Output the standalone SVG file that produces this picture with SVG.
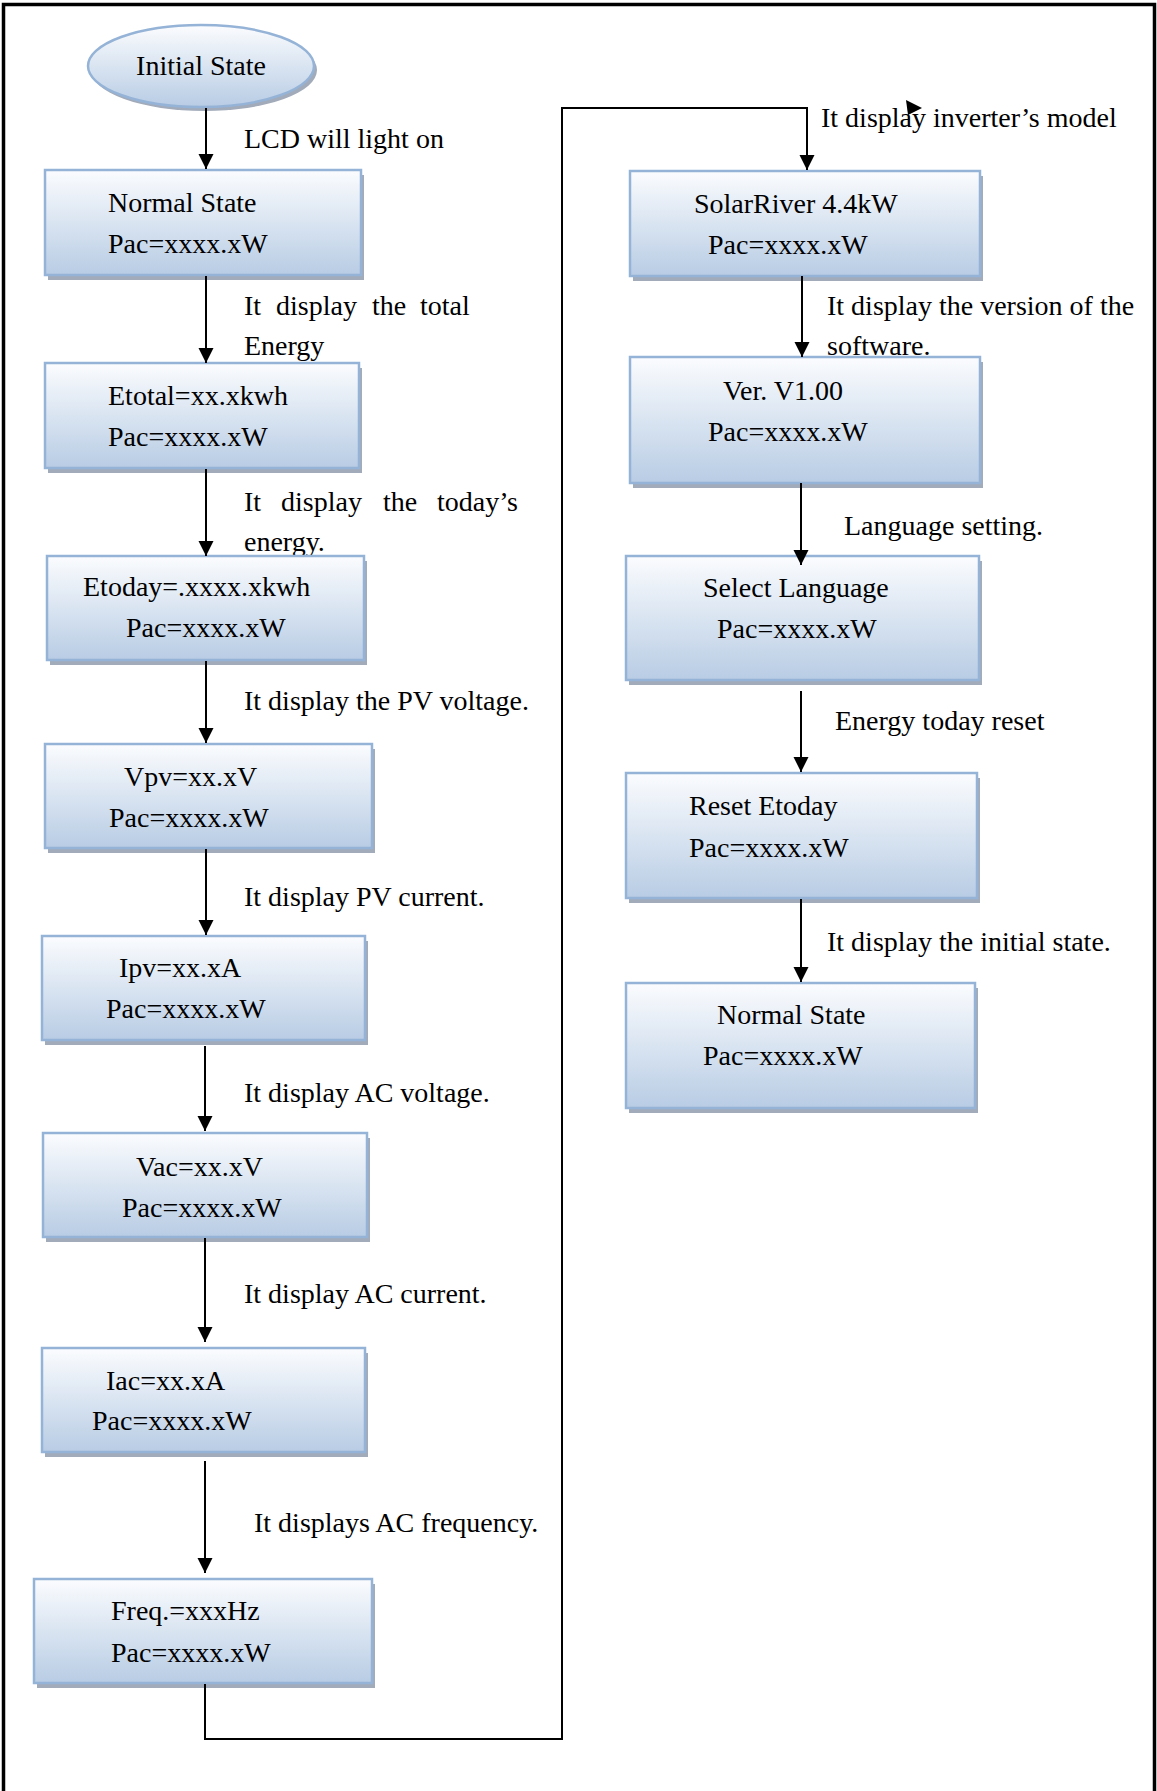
<svg xmlns="http://www.w3.org/2000/svg" width="1157" height="1791" viewBox="0 0 1157 1791">
<style>
.t{font-family:"Liberation Serif","Times New Roman",serif;font-size:28px;fill:#000}
.box{fill:url(#g);stroke:#95b3d7;stroke-width:2.5}
.sh{fill:#a2abba}
.c{fill:none;stroke:#000;stroke-width:2}
</style>
<defs>
<linearGradient id="g" x1="0" y1="0" x2="0" y2="1">
<stop offset="0" stop-color="#fbfcfe"/>
<stop offset="0.55" stop-color="#d6e2f0"/>
<stop offset="1" stop-color="#b8cce4"/>
</linearGradient>
<marker id="ah" markerUnits="userSpaceOnUse" markerWidth="16" markerHeight="16" refX="15" refY="7.5" orient="auto">
<path d="M0,0 L15,7.5 L0,15 z" fill="#000"/>
</marker>
</defs>
<rect width="1157" height="1791" fill="#fff"/>
<path d="M3.5,1791 V4.5 H1154.5 V1791" fill="none" stroke="#000" stroke-width="3.5"/>

<g id="labels">
<text class="t" x="244" y="148">LCD will light on</text>
<text class="t" y="315"><tspan x="244">It</tspan><tspan x="276">display</tspan><tspan x="372">the</tspan><tspan x="420">total</tspan></text>
<text class="t" x="244" y="355">Energy</text>
<text class="t" y="511"><tspan x="244">It</tspan><tspan x="281">display</tspan><tspan x="383">the</tspan><tspan x="437">today’s</tspan></text>
<text class="t" x="244" y="551">energy.</text>
<text class="t" x="244" y="710">It display the PV voltage.</text>
<text class="t" x="244" y="906">It display PV current.</text>
<text class="t" x="244" y="1102">It display AC voltage.</text>
<text class="t" x="244" y="1303">It display AC current.</text>
<text class="t" x="254" y="1532">It displays AC frequency.</text>
<text class="t" x="821" y="127">It display inverter’s model</text>
<text class="t" x="827" y="315">It display the version of the</text>
<text class="t" x="827" y="355">software.</text>
<text class="t" x="844" y="535">Language setting.</text>
<text class="t" x="835" y="730">Energy today reset</text>
<text class="t" x="827" y="951">It display the initial state.</text>
</g>

<g id="initial">
<ellipse class="sh" cx="204" cy="70" rx="113" ry="41"/>
<ellipse class="box" cx="201" cy="66" rx="113" ry="41"/>
<text class="t" x="201" y="75" text-anchor="middle">Initial State</text>
</g>

<g id="normal1">
<rect class="sh" x="48" y="175" width="316" height="105"/>
<rect class="box" x="45" y="170" width="316" height="105"/>
<text class="t" x="108" y="212">Normal State</text>
<text class="t" x="108" y="253">Pac=xxxx.xW</text>
</g>

<g id="etotal">
<rect class="sh" x="48" y="368" width="314" height="105"/>
<rect class="box" x="45" y="363" width="314" height="105"/>
<text class="t" x="108" y="405">Etotal=xx.xkwh</text>
<text class="t" x="108" y="446">Pac=xxxx.xW</text>
</g>

<g id="etoday">
<rect class="sh" x="50" y="561" width="317" height="104"/>
<rect class="box" x="47" y="556" width="317" height="104"/>
<text class="t" x="83" y="596">Etoday=.xxxx.xkwh</text>
<text class="t" x="126" y="637">Pac=xxxx.xW</text>
</g>

<g id="vpv">
<rect class="sh" x="48" y="749" width="327" height="104"/>
<rect class="box" x="45" y="744" width="327" height="104"/>
<text class="t" x="124" y="786">Vpv=xx.xV</text>
<text class="t" x="109" y="827">Pac=xxxx.xW</text>
</g>

<g id="ipv">
<rect class="sh" x="45" y="941" width="323" height="104"/>
<rect class="box" x="42" y="936" width="323" height="104"/>
<text class="t" x="119" y="977">Ipv=xx.xA</text>
<text class="t" x="106" y="1018">Pac=xxxx.xW</text>
</g>

<g id="vac">
<rect class="sh" x="46" y="1138" width="324" height="104"/>
<rect class="box" x="43" y="1133" width="324" height="104"/>
<text class="t" x="136" y="1176">Vac=xx.xV</text>
<text class="t" x="122" y="1217">Pac=xxxx.xW</text>
</g>

<g id="iac">
<rect class="sh" x="45" y="1353" width="323" height="104"/>
<rect class="box" x="42" y="1348" width="323" height="104"/>
<text class="t" x="106" y="1390">Iac=xx.xA</text>
<text class="t" x="92" y="1430">Pac=xxxx.xW</text>
</g>

<g id="freq">
<rect class="sh" x="37" y="1584" width="338" height="104"/>
<rect class="box" x="34" y="1579" width="338" height="104"/>
<text class="t" x="111" y="1620">Freq.=xxxHz</text>
<text class="t" x="111" y="1662">Pac=xxxx.xW</text>
</g>

<g id="solarriver">
<rect class="sh" x="633" y="176" width="350" height="105"/>
<rect class="box" x="630" y="171" width="350" height="105"/>
<text class="t" x="694" y="213">SolarRiver 4.4kW</text>
<text class="t" x="708" y="254">Pac=xxxx.xW</text>
</g>

<g id="version">
<rect class="sh" x="633" y="362" width="350" height="126"/>
<rect class="box" x="630" y="357" width="350" height="126"/>
<text class="t" x="723" y="400">Ver. V1.00</text>
<text class="t" x="708" y="441">Pac=xxxx.xW</text>
</g>

<g id="language">
<rect class="sh" x="629" y="561" width="353" height="124"/>
<rect class="box" x="626" y="556" width="353" height="124"/>
<text class="t" x="703" y="597">Select Language</text>
<text class="t" x="717" y="638">Pac=xxxx.xW</text>
</g>

<g id="reset">
<rect class="sh" x="629" y="778" width="351" height="125"/>
<rect class="box" x="626" y="773" width="351" height="125"/>
<text class="t" x="689" y="815">Reset Etoday</text>
<text class="t" x="689" y="857">Pac=xxxx.xW</text>
</g>

<g id="normal2">
<rect class="sh" x="629" y="988" width="349" height="125"/>
<rect class="box" x="626" y="983" width="349" height="125"/>
<text class="t" x="717" y="1024">Normal State</text>
<text class="t" x="703" y="1065">Pac=xxxx.xW</text>
</g>

<g id="connectors">
<line class="c" x1="206" y1="108" x2="206" y2="169" marker-end="url(#ah)"/>
<line class="c" x1="206" y1="276" x2="206" y2="363" marker-end="url(#ah)"/>
<line class="c" x1="206" y1="469" x2="206" y2="556" marker-end="url(#ah)"/>
<line class="c" x1="206" y1="661" x2="206" y2="743" marker-end="url(#ah)"/>
<line class="c" x1="206" y1="849" x2="206" y2="935" marker-end="url(#ah)"/>
<line class="c" x1="205" y1="1046" x2="205" y2="1131" marker-end="url(#ah)"/>
<line class="c" x1="205" y1="1238" x2="205" y2="1342" marker-end="url(#ah)"/>
<line class="c" x1="205" y1="1461" x2="205" y2="1573" marker-end="url(#ah)"/>
<path class="c" d="M205,1684 V1739 H562 V108 H807 V170" marker-end="url(#ah)"/>
<polygon points="906,100 922,108 908,115" fill="#000"/>
<line class="c" x1="802" y1="276" x2="802" y2="357" marker-end="url(#ah)"/>
<line class="c" x1="801" y1="483" x2="801" y2="565" marker-end="url(#ah)"/>
<line class="c" x1="801" y1="691" x2="801" y2="772" marker-end="url(#ah)"/>
<line class="c" x1="801" y1="899" x2="801" y2="982" marker-end="url(#ah)"/>
</g>
</svg>
